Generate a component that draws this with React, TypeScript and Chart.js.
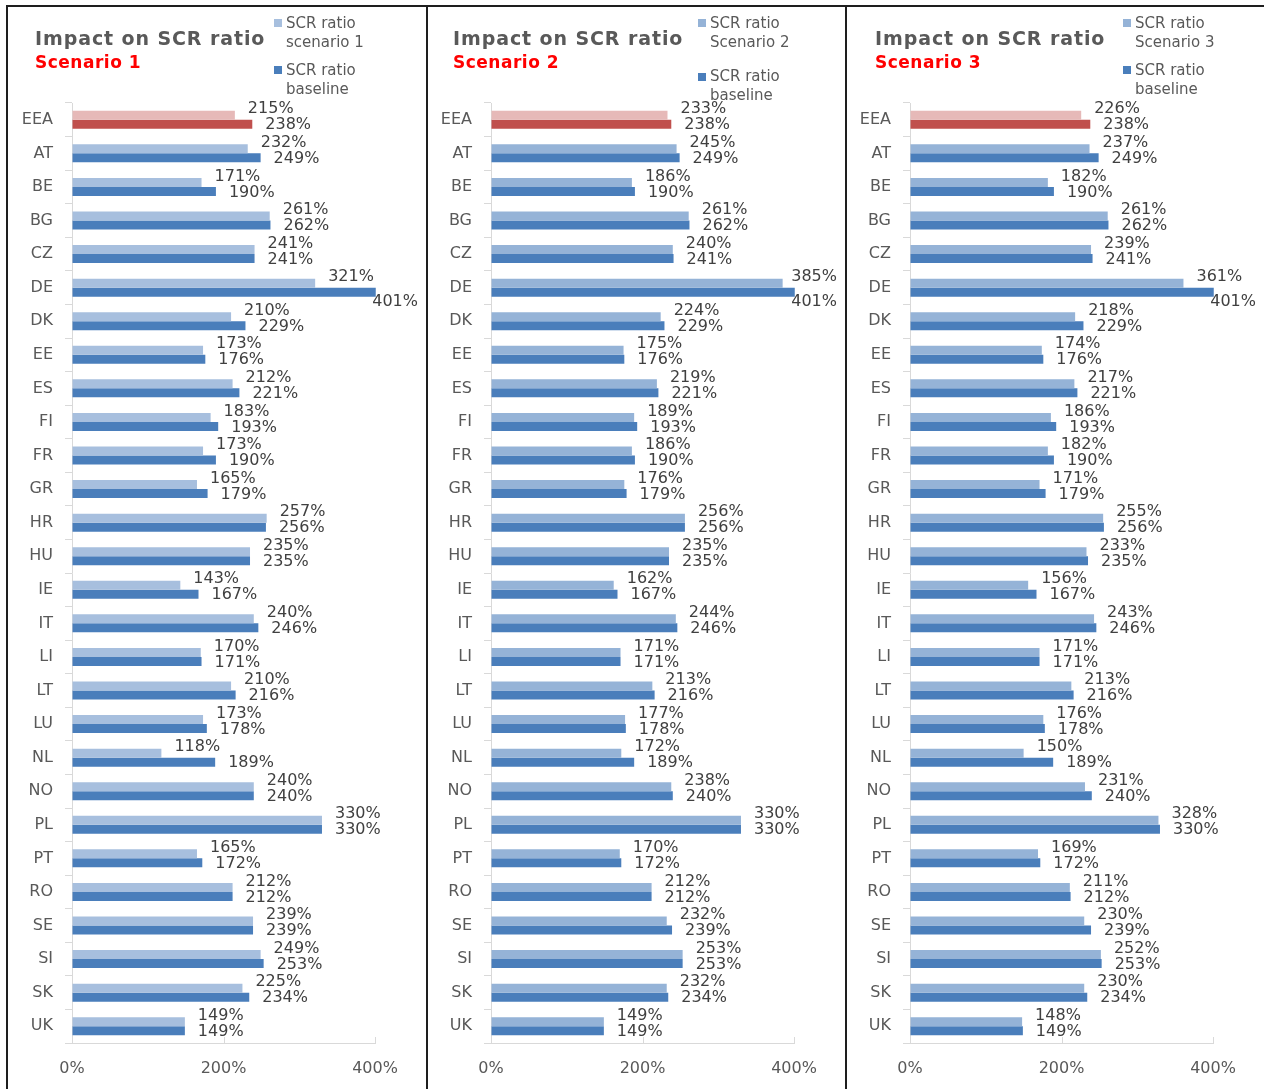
import React, { useEffect, useRef } from "react";
import { Chart, registerables } from "chart.js";

Chart.register(...registerables);

const CATEGORIES = [
  "EEA", "AT", "BE", "BG", "CZ", "DE", "DK", "EE", "ES", "FI", "FR", "GR", "HR", "HU",
  "IE", "IT", "LI", "LT", "LU", "NL", "NO", "PL", "PT", "RO", "SE", "SI", "SK", "UK",
];

const BASELINE = [
  238, 249, 190, 262, 241, 401, 229, 176, 221, 193, 190, 179, 256, 235,
  167, 246, 171, 216, 178, 189, 240, 330, 172, 212, 239, 253, 234, 149,
];

const SCENARIO_1 = [
  215, 232, 171, 261, 241, 321, 210, 173, 212, 183, 173, 165, 257, 235,
  143, 240, 170, 210, 173, 118, 240, 330, 165, 212, 239, 249, 225, 149,
];

const SCENARIO_2 = [
  233, 245, 186, 261, 240, 385, 224, 175, 219, 189, 186, 176, 256, 235,
  162, 244, 171, 213, 177, 172, 238, 330, 170, 212, 232, 253, 232, 149,
];

const SCENARIO_3 = [
  226, 237, 182, 261, 239, 361, 218, 174, 217, 186, 182, 171, 255, 233,
  156, 243, 171, 213, 176, 150, 231, 328, 169, 211, 230, 252, 230, 148,
];

const X_TICKS = [0, 200, 400];

const TITLE = "Impact on SCR ratio";
const SUBTITLES = ["Scenario 1", "Scenario 2", "Scenario 3"];
const SCENARIO_LEGEND = ["scenario 1", "Scenario 2", "Scenario 3"];
const BASELINE_LEGEND = "baseline";
const LEGEND_PREFIX = "SCR ratio";

const FONT = '"DejaVu Sans", Verdana, sans-serif';
const TEXT_GREY = "#595959";
const AXIS_GREY = "#D9D9D9";

const LIGHT_BLUES = ["#A7BFDE", "#95B3D7", "#95B3D7"];
const DARK_BLUE = "#4A7EBB";
const LIGHT_RED = "#E6B9B8";
const DARK_RED = "#C0504D";

// layout per panel (page coordinates)
const PANELS = [
  { border: 6, canvasLeft: 8, canvasWidth: 418, axisLeft: 64, titleLeft: 35, legendLeft: 274, legend2Top: 61, sq2Top: 66 },
  { border: 426, canvasLeft: 428, canvasWidth: 417, axisLeft: 63, titleLeft: 453, legendLeft: 698, legend2Top: 67, sq2Top: 73 },
  { border: 845, canvasLeft: 847, canvasWidth: 417, axisLeft: 63, titleLeft: 875, legendLeft: 1123, legend2Top: 61, sq2Top: 66 },
];

const CANVAS_TOP = 7;
const CANVAS_HEIGHT = 1082;

const valueLabels = {
  id: "valueLabels",
  afterDatasetsDraw(chart: any) {
    const ctx = chart.ctx;
    ctx.save();
    ctx.font = `16px ${FONT}`;
    ctx.fillStyle = "#404040";
    ctx.textAlign = "left";
    ctx.textBaseline = "middle";
    chart.data.datasets.forEach((ds: any, di: number) => {
      const meta = chart.getDatasetMeta(di);
      meta.data.forEach((el: any, i: number) => {
        const text = ds.data[i] + "%";
        const w = ctx.measureText(text).width;
        let x = el.x + 13;
        let y = el.y + (di === 0 ? -6 : 1);
        if (x + w > chart.width - 8) {
          x = chart.width - 8 - w;
          if (di === 1) y += 9;
        }
        ctx.fillText(text, x, y);
      });
    });
    ctx.restore();
  },
};

const innerTicks = {
  id: "innerTicks",
  afterDraw(chart: any) {
    const xs = chart.scales.x;
    const y = chart.chartArea.bottom;
    const ctx = chart.ctx;
    ctx.save();
    ctx.strokeStyle = AXIS_GREY;
    ctx.lineWidth = 1;
    xs.ticks.forEach((t: any, i: number) => {
      if (i === 0) return;
      const px = Math.round(xs.getPixelForValue(t.value)) + 0.5;
      ctx.beginPath();
      ctx.moveTo(px, y - 6);
      ctx.lineTo(px, y);
      ctx.stroke();
    });
    ctx.restore();
  },
};

function Panel({ idx, scenario }: { idx: number; scenario: number[] }) {
  const ref = useRef<HTMLCanvasElement | null>(null);
  const p = PANELS[idx];

  useEffect(() => {
    if (!ref.current) return;
    const lightColors = CATEGORIES.map((_, i) => (i === 0 ? LIGHT_RED : LIGHT_BLUES[idx]));
    const darkColors = CATEGORIES.map((_, i) => (i === 0 ? DARK_RED : DARK_BLUE));
    const chart = new Chart(ref.current, {
      type: "bar",
      data: {
        labels: CATEGORIES,
        datasets: [
          {
            label: `${LEGEND_PREFIX} ${SCENARIO_LEGEND[idx]}`,
            data: scenario,
            backgroundColor: lightColors,
            clip: false as any,
          },
          {
            label: `${LEGEND_PREFIX} ${BASELINE_LEGEND}`,
            data: BASELINE,
            backgroundColor: darkColors,
            clip: false as any,
          },
        ],
      },
      options: {
        indexAxis: "y",
        animation: false,
        responsive: false,
        maintainAspectRatio: false,
        devicePixelRatio: 1,
        datasets: { bar: { categoryPercentage: 0.536, barPercentage: 1 } },
        layout: { padding: { top: 96, right: 51, left: 0, bottom: 0 } },
        plugins: { legend: { display: false }, title: { display: false }, tooltip: { enabled: false } },
        scales: {
          x: {
            type: "linear",
            min: 0,
            max: 400,
            afterBuildTicks: (scale: any) => {
              scale.ticks = X_TICKS.map((v) => ({ value: v }));
            },
            afterFit: (scale: any) => {
              scale.height = CANVAS_HEIGHT - 1036;
            },
            ticks: {
              callback: (v: any) => v + "%",
              font: { family: FONT, size: 16 },
              color: TEXT_GREY,
              padding: 16,
              maxRotation: 0,
            },
            grid: { drawOnChartArea: false, drawTicks: false },
            border: { color: AXIS_GREY, width: 1 },
          },
          y: {
            type: "category",
            offset: true,
            afterFit: (scale: any) => {
              scale.width = p.axisLeft;
            },
            ticks: {
              font: { family: FONT, size: 16 },
              color: TEXT_GREY,
              padding: 12,
              autoSkip: false,
            },
            grid: { offset: true, drawOnChartArea: false, drawTicks: true, tickLength: 7, color: AXIS_GREY },
            border: { color: AXIS_GREY, width: 1 },
          },
        },
      } as any,
      plugins: [valueLabels, innerTicks],
    });
    return () => chart.destroy();
  }, [idx, scenario]);

  const legendText: React.CSSProperties = {
    position: "absolute",
    fontFamily: FONT,
    fontSize: 15,
    lineHeight: "19px",
    color: TEXT_GREY,
    whiteSpace: "nowrap",
  };

  return (
    <>
      <div
        style={{
          position: "absolute",
          left: p.border,
          top: 5,
          width: 1400,
          height: 1200,
          borderLeft: "2px solid #1e1e1e",
          borderTop: "2px solid #1e1e1e",
          boxSizing: "border-box",
        }}
      />
      <canvas
        ref={ref}
        width={p.canvasWidth}
        height={CANVAS_HEIGHT}
        style={{ position: "absolute", left: p.canvasLeft, top: CANVAS_TOP, width: p.canvasWidth, height: CANVAS_HEIGHT }}
      />
      <div
        style={{
          position: "absolute",
          left: p.titleLeft,
          top: 27,
          fontFamily: FONT,
          fontWeight: "bold",
          fontSize: 19,
          letterSpacing: "0.9px",
          lineHeight: "22px",
          color: TEXT_GREY,
          whiteSpace: "nowrap",
        }}
      >
        {TITLE}
      </div>
      <div
        style={{
          position: "absolute",
          left: p.titleLeft,
          top: 52,
          fontFamily: FONT,
          fontWeight: "bold",
          fontSize: 17,
          letterSpacing: "0.5px",
          lineHeight: "20px",
          color: "#FF0000",
          whiteSpace: "nowrap",
        }}
      >
        {SUBTITLES[idx]}
      </div>
      <div style={{ position: "absolute", left: p.legendLeft, top: 19, width: 8, height: 8, background: LIGHT_BLUES[idx] }} />
      <div style={{ ...legendText, left: p.legendLeft + 12, top: 14 }}>
        {LEGEND_PREFIX}
        <br />
        {SCENARIO_LEGEND[idx]}
      </div>
      <div style={{ position: "absolute", left: p.legendLeft, top: p.sq2Top, width: 8, height: 8, background: DARK_BLUE }} />
      <div style={{ ...legendText, left: p.legendLeft + 12, top: p.legend2Top }}>
        {LEGEND_PREFIX}
        <br />
        {BASELINE_LEGEND}
      </div>
    </>
  );
}

export default function App() {
  return (
    <div
      style={{
        position: "absolute",
        left: 0,
        top: 0,
        width: 1264,
        height: 1089,
        overflow: "hidden",
        background: "#ffffff",
      }}
    >
      <Panel idx={0} scenario={SCENARIO_1} />
      <Panel idx={1} scenario={SCENARIO_2} />
      <Panel idx={2} scenario={SCENARIO_3} />
    </div>
  );
}
